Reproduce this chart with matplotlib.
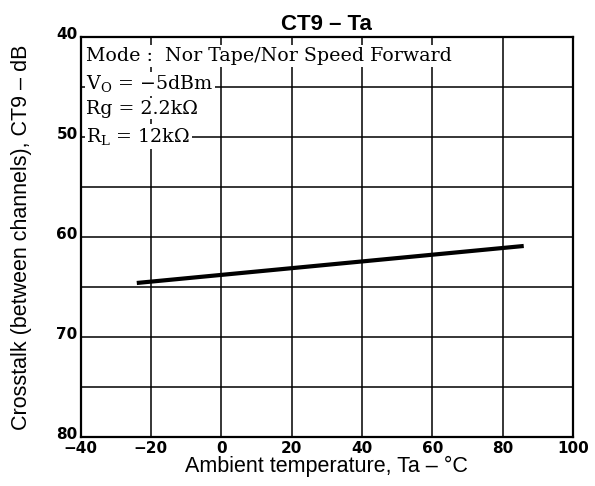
import matplotlib
matplotlib.use("Agg")
import matplotlib.pyplot as plt
import matplotlib.transforms as mtransforms
from matplotlib.ticker import MultipleLocator, FixedLocator

plt.rcParams['mathtext.fontset'] = 'custom'
plt.rcParams['mathtext.rm'] = 'DejaVu Serif'
plt.rcParams['mathtext.it'] = 'DejaVu Serif'

# Crosstalk vs ambient temperature
temp_c = [-24, 86]
crosstalk_db = [64.6, 60.9]

x_ticks = [-40, -20, 0, 20, 40, 60, 80, 100]
y_ticks = [40, 50, 60, 70, 80]

conditions = [
    "Mode :  Nor Tape/Nor Speed Forward",
    r"$\mathrm{V_O}$ = −5dBm",
    "Rg = 2.2kΩ",
    r"$\mathrm{R_L}$ = 12kΩ",
]

fig = plt.figure(figsize=(5.95, 4.86), dpi=100)
ax = fig.add_axes([0.1353, 0.1008, 0.8277, 0.8232])

ax.set_xlim(-40, 100)
ax.set_ylim(80, 40)
ax.xaxis.set_major_locator(FixedLocator(x_ticks))
ax.yaxis.set_major_locator(FixedLocator(y_ticks))
ax.yaxis.set_minor_locator(MultipleLocator(5))
ax.grid(True, which='both', color='black', linewidth=1.1, zorder=1)
ax.tick_params(which='both', length=0)
ax.tick_params(axis='x', pad=3)
ax.tick_params(axis='y', pad=2)
for lbl in ax.get_xticklabels() + ax.get_yticklabels():
    lbl.set_fontweight('bold')
    lbl.set_fontsize(11)
    lbl.set_family('DejaVu Sans')

# lift the y tick labels a little so "80" clears "-40"
lift = mtransforms.ScaledTranslation(0, 3 / 72, fig.dpi_scale_trans)
for lbl in ax.get_yticklabels():
    lbl.set_transform(lbl.get_transform() + lift)

for sp in ax.spines.values():
    sp.set_linewidth(1.6)
    sp.set_zorder(5)

ax.plot(temp_c, crosstalk_db, color='black', linewidth=3.0,
        solid_capstyle='butt', zorder=3)

# Measurement conditions with white backing over the grid
y0 = 0.975
dy = 0.066
for i, s in enumerate(conditions):
    ax.text(0.012, y0 - i * dy, s, transform=ax.transAxes, ha='left', va='top',
            family='DejaVu Serif', fontsize=13.7, zorder=4,
            bbox=dict(facecolor='white', edgecolor='none', pad=1.2))

ax.set_title("CT9 – Ta", family='Liberation Sans', fontweight='bold',
             fontsize=16, pad=5)
ax.set_xlabel("Ambient temperature, Ta – °C", family='Liberation Sans',
              fontsize=15.5, labelpad=0)
ax.set_ylabel("Crosstalk (between channels), CT9 – dB", family='Liberation Sans',
              fontsize=15.5)
ax.yaxis.set_label_coords(-0.098, 0.5)

fig.savefig("out.png", dpi=100)
